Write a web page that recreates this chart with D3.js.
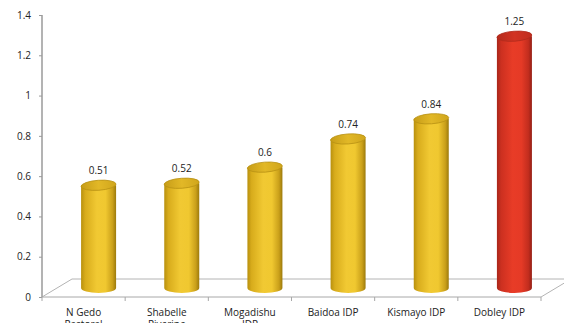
<!DOCTYPE html>
<html><head><meta charset="utf-8">
<script src="https://cdn.jsdelivr.net/npm/d3@7"></script>
<style>
html,body{margin:0;padding:0;background:#fff;}
svg{display:block;font-family:"Open Sans",sans-serif;}
</style></head>
<body>
<svg id="chart" width="564" height="323"></svg>
<script>
const categories = ["N Gedo Pastoral","Shabelle Riverine","Mogadishu IDP","Baidoa IDP","Kismayo IDP","Dobley IDP"];
const labelLines = [["N Gedo","Pastoral"],["Shabelle","Riverine"],["Mogadishu","IDP"],["Baidoa IDP"],["Kismayo IDP"],["Dobley IDP"]];
const values = [0.51,0.52,0.6,0.74,0.84,1.25];
const highlight = [false,false,false,false,false,true];
const yTicks = [0,0.2,0.4,0.6,0.8,1,1.2,1.4];

const svg = d3.select("#chart");
const x = d3.scaleBand().domain(categories).range([42,541]).padding(0);
const y = d3.scaleLinear().domain([0,1.4]).range([297,15]);
const depthX = 30, depthY = -18;
const off = {x: depthX/2, y: depthY/2};

const defs = svg.append("defs");
function grad(id, stops){
  const g = defs.append("linearGradient").attr("id",id).attr("x1","0%").attr("x2","100%").attr("y1","0%").attr("y2","0%");
  stops.forEach(s=>g.append("stop").attr("offset",s[0]).attr("stop-color",s[1]));
}
grad("gold",[["0%","#b8900e"],["12%","#d8ac1c"],["45%","#f1c933"],["70%","#f0c830"],["90%","#caa01a"],["100%","#9c7a0c"]]);
grad("goldTop",[["0%","#c79d18"],["50%","#e2b827"],["100%","#d0a61c"]]);
grad("red",[["0%","#a8261a"],["12%","#cc3020"],["45%","#e83c27"],["70%","#e53a26"],["90%","#c22d1e"],["100%","#951f15"]]);
grad("redTop",[["0%","#b42a1c"],["50%","#d23322"],["100%","#c02d1e"]]);

// floor
const floor = svg.append("g").attr("fill","none").attr("stroke","#b4b4b4").attr("stroke-width",1);
const x0 = x.range()[0], x1 = x.range()[1], y0 = y(0);
floor.append("path").attr("d",`M${x0},${y0} L${x0+depthX},${y0+depthY} L${x1+depthX},${y0+depthY}`);
floor.append("path").attr("d",`M${x1},${y0} L${x1+depthX},${y0+depthY}`);

// y axis
const yAxis = svg.append("g").attr("transform",`translate(${x0},0)`)
  .call(d3.axisLeft(y).tickValues(yTicks).tickSize(3).tickPadding(8).tickFormat(d=>String(d)));
yAxis.select(".domain").attr("stroke","#9a9a9a").attr("stroke-width",1.5).attr("d",`M0,${y(1.4)}V${y0}`);
yAxis.selectAll(".tick line").attr("stroke","#9a9a9a");
yAxis.selectAll(".tick text").attr("fill","#222").style("font-size","10px").style("font-family","'Open Sans',sans-serif");

// x axis front edge + boundary ticks
const xg = svg.append("g");
xg.append("line").attr("x1",x0).attr("x2",x1).attr("y1",y0).attr("y2",y0).attr("stroke","#a8a8a8").attr("stroke-width",1);
const bounds = categories.map(c=>x(c)).concat([x1]);
xg.selectAll("line.tk").data(bounds).enter().append("line").attr("class","tk")
  .attr("x1",d=>d).attr("x2",d=>d).attr("y1",y0).attr("y2",y0+4).attr("stroke","#a8a8a8");

// category labels
const cl = svg.append("g").style("font-size","10px").attr("fill","#222").attr("text-anchor","middle");
categories.forEach((c,i)=>{
  const t = cl.append("text").attr("x",x(c)+x.bandwidth()/2).attr("y",316);
  labelLines[i].forEach((ln,j)=>t.append("tspan").attr("x",x(c)+x.bandwidth()/2).attr("dy",j===0?0:12).text(ln));
});

// cylinders
const rx = 17.5, ry = 5;
const bars = svg.append("g");
categories.forEach((c,i)=>{
  const cx = x(c)+x.bandwidth()/2+off.x;
  const yb = y(0)+off.y, yt = y(values[i])+off.y;
  const body = highlight[i] ? "url(#red)" : "url(#gold)";
  const top = highlight[i] ? "url(#redTop)" : "url(#goldTop)";
  const rim = highlight[i] ? "#b02a1c" : "#b89214";
  const g = bars.append("g");
  g.append("path").attr("fill",body)
    .attr("d",`M${cx-rx},${yt} L${cx-rx},${yb} A${rx},${ry} 0 0 0 ${cx+rx},${yb} L${cx+rx},${yt} Z`);
  g.append("ellipse").attr("cx",cx).attr("cy",yt).attr("rx",rx).attr("ry",ry)
    .attr("fill",top).attr("stroke",rim).attr("stroke-width",0.8)
    .attr("transform",`rotate(-4,${cx},${yt})`);
  svg.append("text").attr("x",cx).attr("y",yt-ry-6).attr("text-anchor","middle")
    .style("font-size","10px").attr("fill","#222").text(String(values[i]));
});
</script>
</body></html>
